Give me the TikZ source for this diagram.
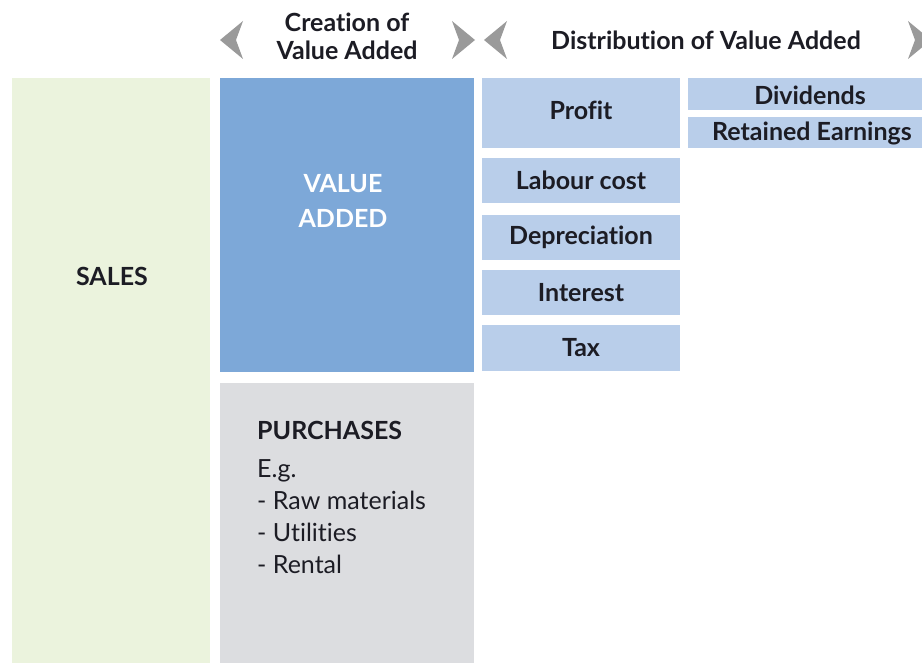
\documentclass[tikz,border=0pt]{standalone}
\usepackage{fontspec}
\setmainfont{Lato}[Ligatures={NoCommon,NoRare}]
\definecolor{salesgreen}{HTML}{EBF3DD}
\definecolor{vablue}{HTML}{7DA8D8}
\definecolor{lightblue}{HTML}{B9CEEA}
\definecolor{purgray}{HTML}{DCDDE0}
\definecolor{chevgray}{HTML}{9A9A9A}
\definecolor{txt}{HTML}{1C1C24}
\begin{document}
\begin{tikzpicture}[x=1pt,y=-1pt,
  box/.style={draw=none,inner sep=0pt,outer sep=0pt,anchor=north west},
  lbl/.style={font=\fontsize{25}{28}\selectfont\bfseries,text=txt,inner sep=0pt},
  dist/.style={box,fill=lightblue,font=\fontsize{25}{28}\selectfont\bfseries,text=txt},
  hdr/.style={font=\fontsize{25}{28}\selectfont\bfseries,text=txt,align=center,inner sep=0pt},
  chev/.style={fill=chevgray,draw=none}]
\useasboundingbox (0,0) rectangle (922,663);
\clip (0,0) rectangle (922,663);
% chevrons
\fill[chev] (220,40) -- (243,21) -- (236,40) -- (243,59) -- cycle;
\fill[chev] (475,40) -- (452,21) -- (459,40) -- (452,59) -- cycle;
\fill[chev] (484,40) -- (507,21) -- (500,40) -- (507,59) -- cycle;
\fill[chev] (931,40) -- (908,21) -- (915,40) -- (908,59) -- cycle;
% headers
\node[hdr] (hcre) at (347,36) {Creation of\\Value Added};
\node[hdr] (hdis) at (706,40) {Distribution of Value Added};
% main boxes
\node[box,fill=salesgreen,minimum width=198pt,minimum height=585pt] (sales) at (12,78) {};
\node[lbl] (salest) at (112,276) {SALES};
\node[box,fill=vablue,minimum width=254pt,minimum height=294pt] (va) at (220,78) {};
\node[lbl,font=\fontsize{25}{35}\selectfont\bfseries,text=white,align=center] (vat) at (343,201) {VALUE\\ADDED};
\node[box,fill=purgray,minimum width=254pt,minimum height=280pt] (pur) at (220,383) {};
\node[anchor=north west,inner sep=0pt,align=left,text=txt,font=\fontsize{25}{32}\selectfont] (purt) at (257,421)
  {{\bfseries PURCHASES}\\[6pt]E.g.\\- Raw materials\\- Utilities\\- Rental};
% distribution boxes
\node[dist,minimum width=198pt,minimum height=70pt] (profit) at (482,78) {};
\node[lbl] (profitt) at (581,110) {Profit};
\node[dist,minimum width=198pt,minimum height=45pt,anchor=center] (labour) at (581,180.5) {Labour cost};
\node[dist,minimum width=198pt,minimum height=45pt,anchor=center] (dep) at (581,237.5) {Depreciation};
\node[dist,minimum width=198pt,minimum height=45pt,anchor=center] (int) at (581,292.5) {Interest};
\node[dist,minimum width=198pt,minimum height=46pt,anchor=center] (tax) at (581,348) {Tax};
\node[dist,minimum width=234pt,minimum height=32pt,anchor=center] (div) at (805,94) {};
\node[lbl] (divt) at (810,95) {Dividends};
\node[dist,minimum width=234pt,minimum height=31pt,anchor=center] (ret) at (805,132.5) {};
\node[lbl] (rett) at (812,133) {Retained Earnings};
\end{tikzpicture}
\end{document}
